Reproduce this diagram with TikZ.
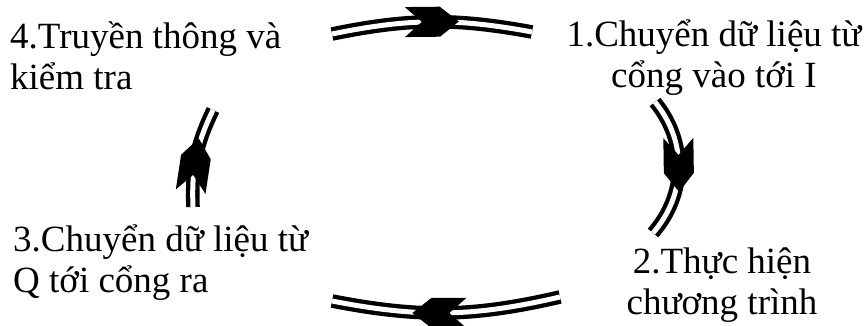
\documentclass[tikz,border=0pt]{standalone}
\usepackage{fontspec}
\setmainfont{Liberation Serif}
\usetikzlibrary{decorations.markings}

\tikzset{
  buoc/.style={font=\fontsize{37}{41}\selectfont, inner sep=0pt},
  vong/.style={double, double distance=5pt, line width=4.3pt,
    postaction={decorate, decoration={markings, mark=at position #1 with {
      \fill[black] (-27pt,15pt) -- (8pt,15pt) -- (27pt,0pt) -- (8pt,-15pt)
        -- (-27pt,-15pt) -- (-10pt,0pt) -- cycle;}}}},
}

\begin{document}
\begin{tikzpicture}[x=1pt, y=1pt]
  \useasboundingbox (0,0) rectangle (866,326);

  % cac buoc
  \node[buoc, align=left, anchor=base west] (b4) at (10,236) {4.Truyền thông và\\kiểm tra};
  \node[buoc, align=center, anchor=base] (b1) at (714,238) {1.Chuyển dữ liệu từ\\cổng vào tới I};
  \node[buoc, align=center, anchor=base] (b2) at (722,11) {2.Thực hiện\\chương trình};
  \node[buoc, align=left, anchor=base west] (b3) at (13,33) {3.Chuyển dữ liệu từ\\Q tới cổng ra};

  % dau mut cac cung
  \coordinate (t4) at (332,292);
  \coordinate (t1) at (532,294);
  \coordinate (p1) at (655,224);
  \coordinate (p2) at (653,93);
  \coordinate (d2) at (560,29);
  \coordinate (d3) at (332,25);
  \coordinate (l3) at (193,119);
  \coordinate (l4) at (213,216);

  % vong tron xu ly
  \draw[vong=0.5] (t4) to[bend left=11] (t1);
  \draw[vong=0.48] (p1) to[bend left=40] (p2);
  \draw[vong=0.53] (d2) to[bend left=12] (d3);
  \draw[vong=0.42] (l3) to[bend left=14] (l4);
\end{tikzpicture}
\end{document}
